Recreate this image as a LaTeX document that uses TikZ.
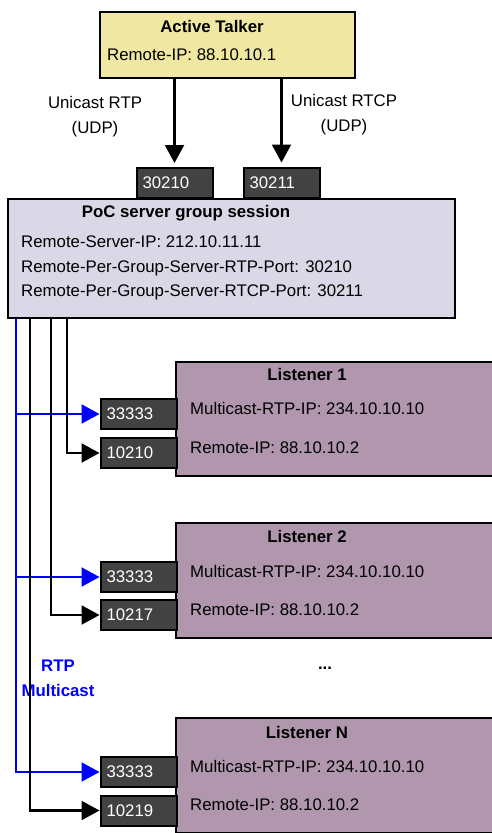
\documentclass[tikz,border=0pt]{standalone}
\usepackage{fontspec}
\setmainfont{Liberation Sans}
\usetikzlibrary{
    positioning,
    arrows.meta
}
\definecolor{talkerfill}{RGB}{240,232,162}
\definecolor{serverfill}{RGB}{218,216,230}
\definecolor{listenerfill}{RGB}{176,151,174}
\definecolor{portfill}{RGB}{66,66,66}
\newcommand\diagfont{\fontsize{16.8}{25}\selectfont}
\tikzset{
    >={Triangle[length=18pt,width=19pt]},
    box/.style={
        draw,
        line width=2pt,
        inner sep=0pt
    },
    portbox/.style={
        draw,
        line width=2pt,
        fill=portfill,
        text=white,
        minimum height=30pt,
        text width=64pt,
        inner xsep=6pt,
        inner ysep=0pt,
        font=\diagfont
    },
    boxtitle/.style={font=\diagfont\bfseries, inner sep=0pt},
    info/.style={font=\diagfont, anchor=west, inner sep=0pt},
    link/.style={->, line width=2.2pt},
    mcast/.style={->, line width=2.2pt, blue}
}

\begin{document}
\begin{tikzpicture}[x=1pt, y=1pt]

    \useasboundingbox (0,0) rectangle (492,-833);

    % Talker
    \node[box, fill=talkerfill, minimum width=255pt, minimum height=66pt] (talker) at (227.5,-45) {};
    \node[boxtitle] (talkertitle) at (212,-26) {Active Talker};
    \node[info] (talkerip) at (107,-55) {Remote-IP: 88.10.10.1};

    % Servidor PoC
    \node[box, fill=serverfill, minimum width=447pt, minimum height=119pt] (poc) at (231.5,-258.5) {};
    \node[boxtitle] (poctitle) at (186,-213) {PoC server group session};
    \node[info] (pocip)   at (21,-242) {Remote-Server-IP: 212.10.11.11};
    \node[info] (pocrtp)  at (21,-268) {Remote-Per-Group-Server-RTP-Port: 30210};
    \node[info] (pocrtcp) at (21,-292) {Remote-Per-Group-Server-RTCP-Port: 30211};
    \node[portbox] (prtp)  at (174.5,-183) {30210};
    \node[portbox] (prtcp) at (281.5,-182.5) {30211};

    % Listeners
    \node[box, fill=listenerfill, minimum width=330pt, minimum height=114pt] (l1) at (341,-419) {};
    \node[boxtitle] (l1title) at (307,-374) {Listener 1};
    \node[info] (l1mc) at (190,-408) {Multicast-RTP-IP: 234.10.10.10};
    \node[info] (l1ip) at (190,-448) {Remote-IP: 88.10.10.2};
    \node[portbox] (m1) at (138.5,-414) {33333};
    \node[portbox] (r1) at (138.5,-453) {10210};

    \node[box, fill=listenerfill, minimum width=330pt, minimum height=115pt] (l2) at (341,-580.5) {};
    \node[boxtitle] (l2title) at (307,-536) {Listener 2};
    \node[info] (l2mc) at (190,-571) {Multicast-RTP-IP: 234.10.10.10};
    \node[info] (l2ip) at (190,-610) {Remote-IP: 88.10.10.2};
    \node[portbox] (m2) at (138.5,-577) {33333};
    \node[portbox] (r2) at (138.5,-615) {10217};

    \node[font=\diagfont\bfseries] (dots) at (325,-668) {...};

    \node[box, fill=listenerfill, minimum width=330pt, minimum height=115pt] (ln) at (341,-775.5) {};
    \node[boxtitle] (lntitle) at (307,-732) {Listener N};
    \node[info] (lnmc) at (190,-766) {Multicast-RTP-IP: 234.10.10.10};
    \node[info] (lnip) at (190,-805) {Remote-IP: 88.10.10.2};
    \node[portbox] (mn) at (138.5,-772) {33333};
    \node[portbox] (rn) at (138.5,-810.5) {10219};

    % Etiquetas
    \node[font=\diagfont, align=center] (rtplabel)  at (95,-117)  {Unicast RTP\\(UDP)};
    \node[font=\diagfont, align=center] (rtcplabel) at (344,-115) {Unicast RTCP\\(UDP)};
    \node[font=\diagfont\bfseries, text=blue, align=center] (mclabel) at (58,-678) {RTP\\Multicast};

    % Unicast hacia el servidor
    \draw[link, shorten >=4pt] (prtp.north |- talker.south) -- (prtp.north);
    \draw[link, shorten >=4pt] (prtcp.north |- talker.south) -- (prtcp.north);

    % Multicast
    \draw[mcast] ([xshift=9pt]poc.south west) |- (m1.west);
    \draw[mcast] ([xshift=9pt]poc.south west) |- (m2.west);
    \draw[mcast] ([xshift=9pt]poc.south west) |- (mn.west);

    % Unicast hacia los listeners
    \draw[link] ([xshift=60pt]poc.south west) |- (r1.west);
    \draw[link] ([xshift=44pt]poc.south west) |- (r2.west);
    \draw[link] ([xshift=23pt]poc.south west) |- (rn.west);

\end{tikzpicture}
\end{document}
